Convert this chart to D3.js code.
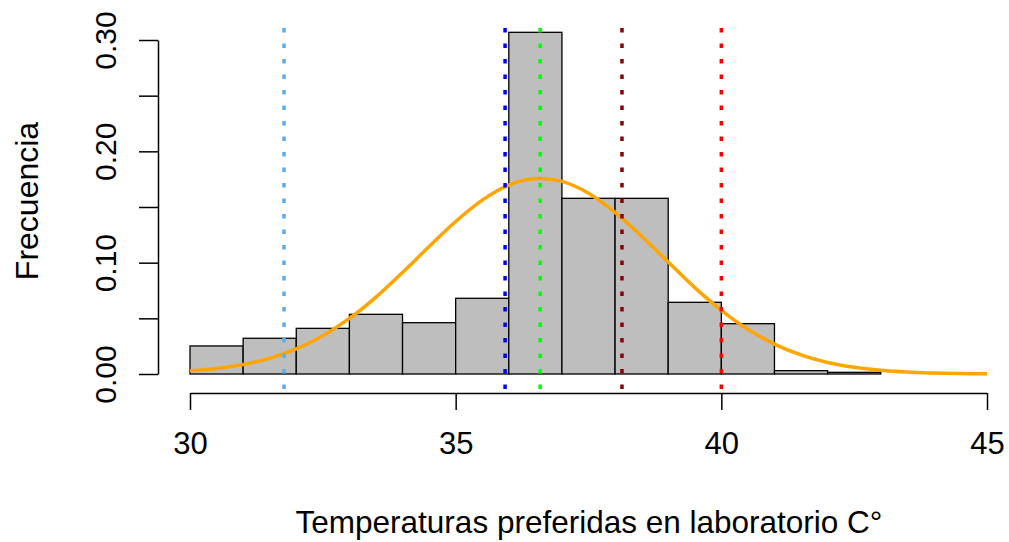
<!DOCTYPE html>
<html>
<head>
<meta charset="utf-8">
<script src="https://cdn.jsdelivr.net/npm/d3@7"></script>
<style>
  body { margin: 0; background: #fff; }
  svg { display: block; font-family: "Liberation Sans", Arial, sans-serif; }
</style>
</head>
<body>
<div id="chart"></div>
<script>
// histogram bins (density per 1 degree bin)
const binStarts = [30, 31, 32, 33, 34, 35, 36, 37, 38, 39, 40, 41, 42];
const binDensity = [0.0252, 0.0321, 0.0410, 0.0536, 0.0461, 0.0680, 0.3069, 0.1578, 0.1578, 0.0644, 0.0452, 0.0030, 0.0015];

// orange curve, every half degree
const curveX = [30, 30.5, 31, 31.5, 32, 32.5, 33, 33.5, 34, 34.5, 35, 35.5, 36, 36.5, 37, 37.5,
                38, 38.5, 39, 39.5, 40, 40.5, 41, 41.5, 42, 42.5, 43, 43.5, 44, 44.5, 45];
const curveY = [0.0030, 0.0050, 0.0086, 0.0141, 0.0225, 0.0344, 0.0499, 0.0691, 0.0912, 0.1145,
                0.1370, 0.1562, 0.1697, 0.1755, 0.1730, 0.1624, 0.1452, 0.1237, 0.1006, 0.0776,
                0.0572, 0.0402, 0.0269, 0.0171, 0.0104, 0.0060, 0.0033, 0.0017, 0.0009, 0.0004, 0.0002];

// dotted reference lines
const refValues = [31.77, 35.93, 36.59, 38.13, 40.0];
const refColors = ["#5CACEE", "#0000FF", "#00FF00", "#8B0000", "#FF0000"];

const xTicks = [30, 35, 40, 45];
const yTicks = [0, 0.05, 0.10, 0.15, 0.20, 0.25, 0.30];

const width = 1009, height = 542;

const svg = d3.select("#chart").append("svg")
    .attr("width", width)
    .attr("height", height);

const x = d3.scaleLinear().domain([30, 45]).range([190, 987]);
const y = d3.scaleLinear().domain([0, 0.30]).range([374, 40]);

//bars
svg.append("g").selectAll("rect")
    .data(binStarts)
    .join("rect")
    .attr("x", d => x(d))
    .attr("y", (d, i) => y(binDensity[i]))
    .attr("width", d => x(d + 1) - x(d))
    .attr("height", (d, i) => y(0) - y(binDensity[i]))
    .attr("fill", "#BEBEBE")
    .attr("stroke", "#000")
    .attr("stroke-width", 1.3);

//density curve
const line = d3.line()
    .x((d, i) => x(curveX[i]))
    .y(d => y(d))
    .curve(d3.curveCatmullRom);

svg.append("path")
    .datum(curveY)
    .attr("d", line)
    .attr("fill", "none")
    .attr("stroke", "#FFA500")
    .attr("stroke-width", 3.5);

//dotted lines across the plot region
svg.append("g").selectAll("line")
    .data(refValues)
    .join("line")
    .attr("x1", d => x(d))
    .attr("x2", d => x(d))
    .attr("y1", 389)
    .attr("y2", 17)
    .attr("stroke", (d, i) => refColors[i])
    .attr("stroke-width", 3.5)
    .attr("stroke-dasharray", "4.5 11");

//axes
const xAxis = svg.append("g")
    .attr("transform", "translate(0,393)")
    .call(d3.axisBottom(x).tickValues(xTicks).tickSize(17).tickSizeOuter(0).tickFormat(d3.format("d")));
xAxis.select(".domain").attr("stroke-width", 1.5);
xAxis.selectAll(".tick line").attr("stroke-width", 1.5);
xAxis.selectAll(".tick text")
    .attr("y", 50)
    .attr("dy", "0.35em")
    .style("font-size", "31px")
    .attr("fill", "#000");

const yAxis = svg.append("g")
    .attr("transform", "translate(158,0)")
    .call(d3.axisLeft(y).tickValues(yTicks).tickSize(19).tickSizeOuter(0)
        .tickFormat(d => Math.round(d * 100) % 10 === 0 ? d3.format(".2f")(d) : ""));
yAxis.select(".domain").attr("stroke-width", 1.5);
yAxis.selectAll(".tick line").attr("stroke-width", 1.5);
yAxis.selectAll(".tick text")
    .attr("x", 0)
    .attr("dy", 0)
    .attr("text-anchor", "middle")
    .attr("transform", "translate(-53,0) rotate(-90)")
    .attr("dominant-baseline", "central")
    .style("font-size", "30px")
    .attr("fill", "#000");

//axis titles
svg.append("text")
    .attr("x", 589)
    .attr("y", 522)
    .attr("text-anchor", "middle")
    .attr("dominant-baseline", "central")
    .style("font-size", "31.5px")
    .text("Temperaturas preferidas en laboratorio C°");

svg.append("text")
    .attr("transform", "translate(27,201) rotate(-90)")
    .attr("text-anchor", "middle")
    .attr("dominant-baseline", "central")
    .style("font-size", "32px")
    .text("Frecuencia");
</script>
</body>
</html>
